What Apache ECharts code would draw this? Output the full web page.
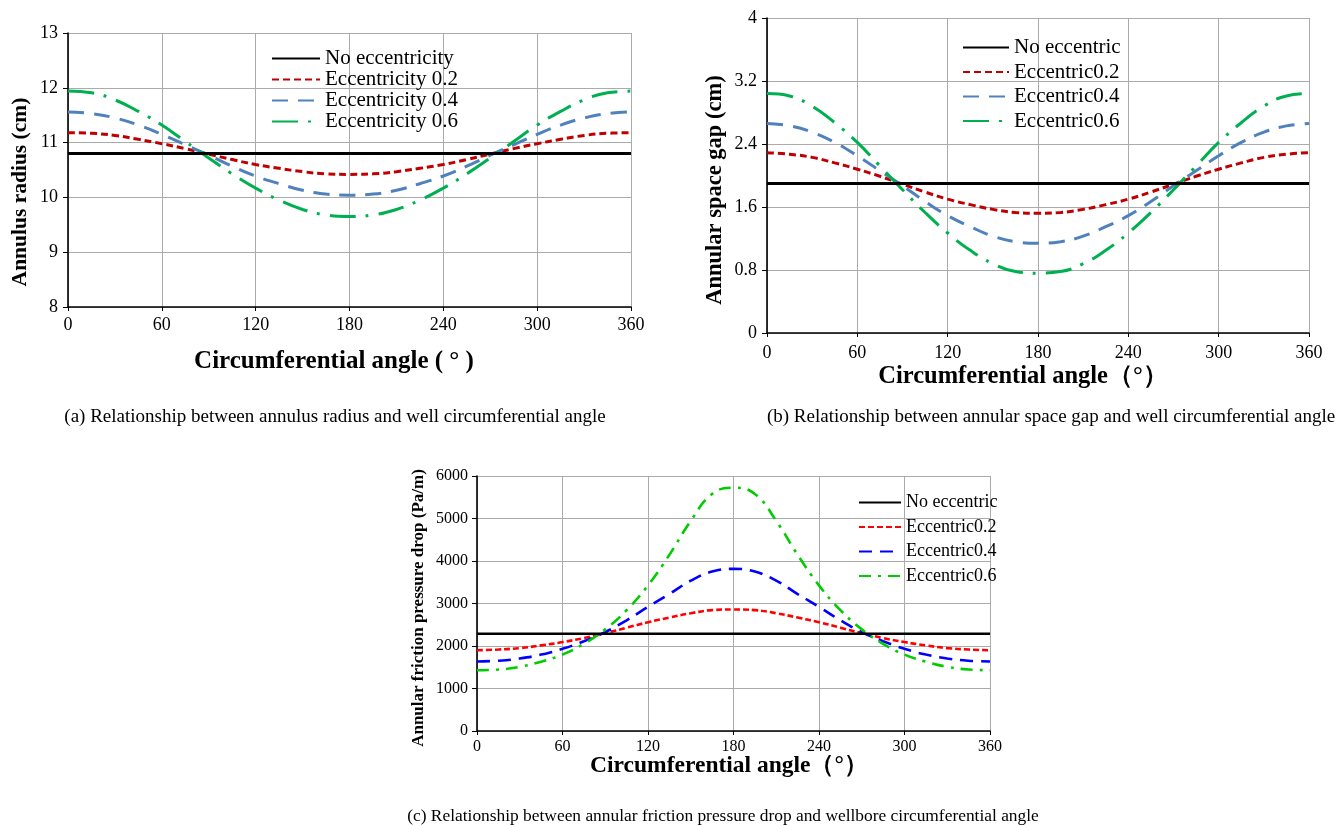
<!DOCTYPE html>
<html>
<head>
<meta charset="utf-8">
<script src="https://cdn.jsdelivr.net/npm/echarts@6/dist/echarts.min.js"></script>
<style>
  html, body { margin: 0; padding: 0; background: #fff; width: 1342px; height: 825px; overflow: hidden; }
  .panel { position: absolute; }
</style>
</head>
<body>
<div id="panelA" class="panel" style="left:0;top:0;width:670px;height:440px"></div>
<div id="panelB" class="panel" style="left:670px;top:0;width:672px;height:440px"></div>
<div id="panelC" class="panel" style="left:380px;top:440px;width:700px;height:385px"></div>
<script>
// Circumferential angle samples (degrees)
const ANGLES = [0, 15, 30, 45, 60, 75, 90, 105, 120, 135, 150, 165, 180,
                195, 210, 225, 240, 255, 270, 285, 300, 315, 330, 345, 360];
const X_TICKS = [0, 60, 120, 180, 240, 300, 360];

// (a) Annulus radius, cm
const RADIUS_NONE = [10.8, 10.8, 10.8, 10.8, 10.8, 10.8, 10.8, 10.8, 10.8, 10.8, 10.8, 10.8, 10.8,
                     10.8, 10.8, 10.8, 10.8, 10.8, 10.8, 10.8, 10.8, 10.8, 10.8, 10.8, 10.8];
const RADIUS_E02 = [11.18, 11.17, 11.13, 11.06, 10.98, 10.89, 10.79, 10.69, 10.60, 10.53, 10.47, 10.43, 10.42,
                    10.43, 10.47, 10.53, 10.60, 10.69, 10.79, 10.89, 10.98, 11.06, 11.13, 11.17, 11.18];
const RADIUS_E04 = [11.56, 11.53, 11.45, 11.32, 11.15, 10.96, 10.77, 10.57, 10.39, 10.25, 10.13, 10.06, 10.04,
                    10.06, 10.13, 10.25, 10.39, 10.57, 10.77, 10.96, 11.15, 11.32, 11.45, 11.53, 11.56];
const RADIUS_E06 = [11.94, 11.91, 11.78, 11.57, 11.32, 11.02, 10.72, 10.43, 10.17, 9.95, 9.78, 9.68, 9.65,
                    9.68, 9.78, 9.95, 10.17, 10.43, 10.72, 11.02, 11.32, 11.57, 11.78, 11.91, 11.94];

// (b) Annular space gap, cm
const GAP_NONE = [1.9, 1.9, 1.9, 1.9, 1.9, 1.9, 1.9, 1.9, 1.9, 1.9, 1.9, 1.9, 1.9,
                  1.9, 1.9, 1.9, 1.9, 1.9, 1.9, 1.9, 1.9, 1.9, 1.9, 1.9, 1.9];
const GAP_E02 = [2.29, 2.27, 2.23, 2.16, 2.08, 1.99, 1.89, 1.79, 1.70, 1.63, 1.57, 1.53, 1.52,
                 1.53, 1.57, 1.63, 1.70, 1.79, 1.89, 1.99, 2.08, 2.16, 2.23, 2.27, 2.29];
const GAP_E04 = [2.66, 2.63, 2.55, 2.42, 2.25, 2.06, 1.87, 1.67, 1.49, 1.35, 1.23, 1.16, 1.14,
                 1.16, 1.23, 1.35, 1.49, 1.67, 1.87, 2.06, 2.25, 2.42, 2.55, 2.63, 2.66];
const GAP_E06 = [3.04, 3.01, 2.88, 2.67, 2.42, 2.12, 1.82, 1.53, 1.27, 1.05, 0.88, 0.78, 0.76,
                 0.78, 0.88, 1.05, 1.27, 1.53, 1.82, 2.12, 2.42, 2.67, 2.88, 3.01, 3.04];

// (c) Annular friction pressure drop, Pa/m
const DROP_NONE = [2290, 2290, 2290, 2290, 2290, 2290, 2290, 2290, 2290, 2290, 2290, 2290, 2290,
                   2290, 2290, 2290, 2290, 2290, 2290, 2290, 2290, 2290, 2290, 2290, 2290];
const DROP_E02 = [1900, 1917, 1951, 2014, 2092, 2186, 2302, 2431, 2559, 2669, 2771, 2844, 2860,
                  2844, 2771, 2669, 2559, 2431, 2302, 2186, 2092, 2014, 1951, 1917, 1900];
const DROP_E04 = [1636, 1654, 1706, 1798, 1934, 2112, 2327, 2605, 2920, 3223, 3537, 3751, 3815,
                  3751, 3537, 3223, 2920, 2605, 2327, 2112, 1934, 1798, 1706, 1654, 1636];
const DROP_E06 = [1431, 1446, 1511, 1630, 1798, 2052, 2391, 2844, 3426, 4144, 4944, 5578, 5725,
                  5578, 4944, 4144, 3426, 2844, 2391, 2052, 1798, 1630, 1511, 1446, 1431];

const NAMES_A = ['No eccentricity', 'Eccentricity 0.2', 'Eccentricity 0.4', 'Eccentricity 0.6'];
const NAMES_B = ['No eccentric', 'Eccentric0.2', 'Eccentric0.4', 'Eccentric0.6'];
const NAMES_C = ['No eccentric', 'Eccentric0.2', 'Eccentric0.4', 'Eccentric0.6'];

const SERIF = '"Liberation Serif", "Times New Roman", serif';
const GRID_GRAY = '#ababab';

function pairs(vals) {
  return ANGLES.map((a, i) => [a, vals[i]]);
}

function buildPanel(elId, cfg) {
  const chart = echarts.init(document.getElementById(elId), null, { renderer: 'canvas' });
  const series = cfg.lines.map(l => ({
    name: l.name,
    type: 'line',
    data: pairs(l.values),
    smooth: l.smooth ? 0.45 : false,
    symbol: 'none',
    clip: true,
    z: l.z || 2,
    itemStyle: { color: l.color },
    lineStyle: { color: l.color, width: l.width, type: l.dash || 'solid', cap: 'butt' },
    emphasis: { disabled: true }
  }));

  chart.setOption({
    animation: false,
    backgroundColor: 'transparent',
    grid: cfg.grid,
    xAxis: {
      type: 'value', min: 0, max: 360, interval: 60,
      axisLine: { show: true, onZero: false, lineStyle: { color: '#000', width: 1.6 } },
      axisTick: { show: true, inside: false, length: 4, lineStyle: { color: '#000', width: 1 } },
      axisLabel: {
        margin: cfg.xLabelMargin, fontFamily: SERIF, fontSize: cfg.tickFont, color: '#000',
        formatter: v => String(v)
      },
      splitLine: { show: true, lineStyle: { color: GRID_GRAY, width: 1 } }
    },
    yAxis: {
      type: 'value', min: cfg.yMin, max: cfg.yMax, interval: cfg.yInterval,
      axisLine: { show: true, lineStyle: { color: '#000', width: 1.6 } },
      axisTick: { show: true, inside: false, length: 5, lineStyle: { color: '#000', width: 1 } },
      axisLabel: {
        margin: cfg.yLabelMargin, fontFamily: SERIF, fontSize: cfg.tickFont, color: '#000',
        formatter: v => String(Math.round(v * 100) / 100)
      },
      splitLine: { show: true, lineStyle: { color: GRID_GRAY, width: 1 } }
    },
    legend: Object.assign({
      orient: 'vertical',
      itemHeight: 12,
      selectedMode: false,
      padding: 0,
      // line-only legend keys: hide the marker drawn in the middle of the key
      itemStyle: { opacity: 0 },
      data: cfg.lines.map(l => l.name)
    }, cfg.legend),
    graphic: cfg.texts.map(t => ({
      type: 'text',
      x: t.x, y: t.y,
      rotation: t.rotate ? Math.PI / 2 : 0,
      silent: true,
      style: {
        text: t.text,
        fontFamily: SERIF,
        fontSize: t.size,
        fontWeight: t.bold ? 'bold' : 'normal',
        fill: '#000',
        align: 'center',
        verticalAlign: 'middle'
      }
    })),
    series: series
  });
  return chart;
}

// (a) Annulus radius vs. circumferential angle
buildPanel('panelA', {
  grid: { left: 68, top: 33, width: 563, height: 274 },
  yMin: 8, yMax: 13, yInterval: 1,
  tickFont: 18, xLabelMargin: 9, yLabelMargin: 10,
  legend: {
    left: 271, top: 48, itemWidth: 48, itemGap: 0,
    textStyle: { fontFamily: SERIF, fontSize: 21, lineHeight: 21, color: '#000' }
  },
  lines: [
    { name: NAMES_A[0], values: RADIUS_NONE, color: '#000000', width: 3, z: 3 },
    { name: NAMES_A[1], values: RADIUS_E02, color: '#c00000', width: 3, dash: [7, 4], smooth: true },
    { name: NAMES_A[2], values: RADIUS_E04, color: '#4f81bd', width: 3, dash: [16, 10], smooth: true },
    { name: NAMES_A[3], values: RADIUS_E06, color: '#00b050', width: 3, dash: [26, 10, 3, 10], smooth: true }
  ],
  texts: [
    { text: 'Circumferential angle ( ° )', x: 334, y: 362, size: 25, bold: true },
    { text: 'Annulus radius (cm)', x: 20, y: 192, size: 21.5, bold: true, rotate: true },
    { text: '(a) Relationship between annulus radius and well circumferential angle', x: 335, y: 417, size: 19 }
  ]
});

// (b) Annular space gap vs. circumferential angle
buildPanel('panelB', {
  grid: { left: 97, top: 18, width: 542, height: 315 },
  yMin: 0, yMax: 4, yInterval: 0.8,
  tickFont: 18, xLabelMargin: 11, yLabelMargin: 10,
  legend: {
    left: 292, top: 37, itemWidth: 46, itemGap: 3.5,
    textStyle: { fontFamily: SERIF, fontSize: 21, lineHeight: 21, color: '#000' }
  },
  lines: [
    { name: NAMES_B[0], values: GAP_NONE, color: '#000000', width: 3, z: 3 },
    { name: NAMES_B[1], values: GAP_E02, color: '#c00000', width: 3, dash: [7, 4], smooth: true },
    { name: NAMES_B[2], values: GAP_E04, color: '#4f81bd', width: 3, dash: [16, 10], smooth: true },
    { name: NAMES_B[3], values: GAP_E06, color: '#00b050', width: 3, dash: [26, 10, 3, 10], smooth: true }
  ],
  texts: [
    { text: 'Circumferential angle（°）', x: 353, y: 377, size: 24.5, bold: true },
    { text: 'Annular space gap (cm)', x: 45, y: 190, size: 22.5, bold: true, rotate: true },
    { text: '(b) Relationship between annular space gap and well circumferential angle', x: 381, y: 417, size: 19 }
  ]
});

// (c) Annular friction pressure drop vs. circumferential angle
buildPanel('panelC', {
  grid: { left: 97, top: 36, width: 513, height: 255 },
  yMin: 0, yMax: 6000, yInterval: 1000,
  tickFont: 16, xLabelMargin: 8, yLabelMargin: 9,
  legend: {
    left: 478, top: 53, itemWidth: 42, itemGap: 5.5,
    textStyle: { fontFamily: SERIF, fontSize: 18, lineHeight: 19, color: '#000' }
  },
  lines: [
    { name: NAMES_C[0], values: DROP_NONE, color: '#000000', width: 2.6, z: 3 },
    { name: NAMES_C[1], values: DROP_E02, color: '#ff0000', width: 2.6, dash: [6, 3], smooth: true },
    { name: NAMES_C[2], values: DROP_E04, color: '#0000ff', width: 2.6, dash: [13, 8], smooth: true },
    { name: NAMES_C[3], values: DROP_E06, color: '#00cc00', width: 2.6, dash: [12, 7, 3, 7], smooth: true }
  ],
  texts: [
    { text: 'Circumferential angle（°）', x: 349, y: 326, size: 23.5, bold: true },
    { text: 'Annular friction pressure drop (Pa/m)', x: 39, y: 168, size: 17, bold: true, rotate: true },
    { text: '(c) Relationship between annular friction pressure drop and wellbore circumferential angle', x: 343, y: 376, size: 17.4 }
  ]
});
</script>
</body>
</html>
